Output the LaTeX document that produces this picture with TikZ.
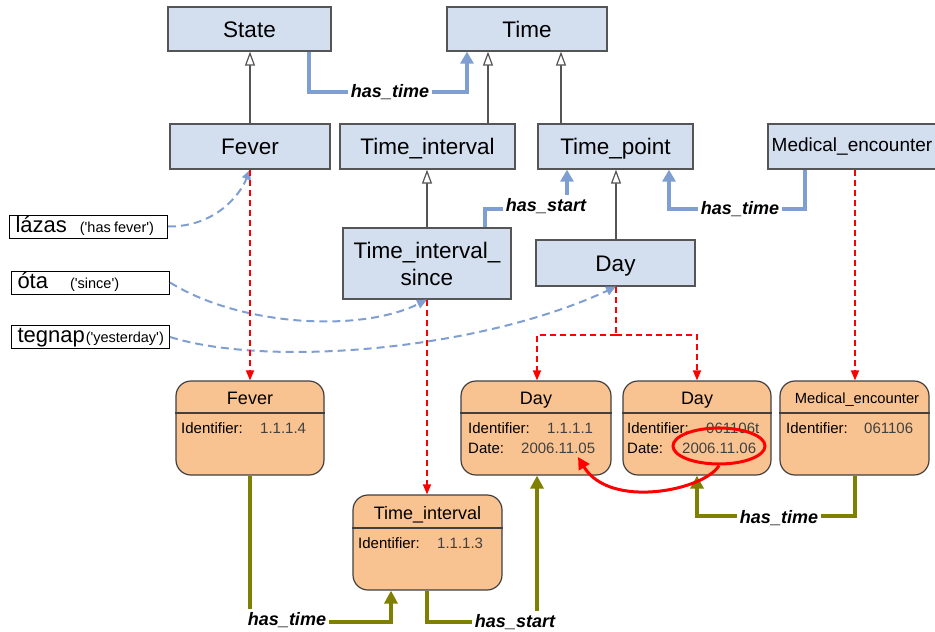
\documentclass[tikz,border=0pt]{standalone}
\usepackage{fontspec}
\setmainfont{Liberation Sans}[Ligatures=TeXOff]
\usetikzlibrary{arrows.meta,shapes.geometric}
\definecolor{boxblue}{HTML}{D3DEEE}
\definecolor{boxedge}{HTML}{555555}
\definecolor{orfill}{HTML}{F9C391}
\definecolor{oredge}{HTML}{404040}
\definecolor{linkblue}{HTML}{7F9FD3}
\definecolor{olivelink}{HTML}{808000}
\definecolor{valgrey}{HTML}{404040}
\begin{document}
\begin{tikzpicture}[x=1pt,y=-1pt,
  bluebox/.style={draw=boxedge, line width=1.3pt, fill=boxblue, inner sep=0pt,
    font=\fontsize{22.5}{27}\selectfont, text height=16pt, text depth=0pt},
  orbox/.style={draw=oredge, line width=1.2pt, fill=orfill, rounded corners=15pt, inner sep=0pt},
  otitle/.style={anchor=base, inner sep=0pt, font=\fontsize{18}{18}\selectfont},
  ofield/.style={anchor=base west, inner sep=0pt, font=\fontsize{15}{15}\selectfont},
  oval/.style={anchor=base west, inner sep=0pt, text=valgrey, font=\fontsize{15}{15}\selectfont},
  lbl/.style={draw=black, line width=1pt, fill=white, anchor=west, inner sep=0pt,
    minimum height=23pt, text width=158pt, align=left, text height=16pt, text depth=5pt},
  elabel/.style={fill=white, inner sep=3pt, font=\fontsize{18}{18}\selectfont\bfseries\itshape,
    text height=13pt, text depth=4pt},
  gen/.style={draw=boxedge, line width=1.2pt, -{Triangle[length=14pt,width=10pt,fill=white]}},
  bl/.style={draw=linkblue, line width=3.5pt, -{Triangle[length=12pt,width=13pt]}},
  rd/.style={draw=red, line width=1.6pt, dash pattern=on 6pt off 4pt, -{Triangle[length=10pt,width=8pt]}},
  rdl/.style={draw=red, line width=1.6pt, dash pattern=on 6pt off 4pt},
  ol/.style={draw=olivelink, line width=3.5pt, -{Triangle[length=13pt,width=13pt]}},
  bd/.style={draw=linkblue, line width=2pt, dash pattern=on 8pt off 5pt, -{Triangle[length=10pt,width=9pt]}}]
\useasboundingbox (0,0) rectangle (935,632);

% ontology (blue) boxes
\node[bluebox, minimum width=163pt, minimum height=44pt] (state) at (249.5,29) {State};
\node[bluebox, minimum width=160pt, minimum height=44pt] (time) at (527,29) {Time};
\node[bluebox, minimum width=160pt, minimum height=45pt] (fever1) at (250,146.5) {Fever};
\node[bluebox, minimum width=175pt, minimum height=45pt] (tint) at (427.5,146.5) {Time\_interval};
\node[bluebox, minimum width=155pt, minimum height=45pt] (tpoint) at (615.5,146.5) {Time\_point};
\node[draw=boxedge, line width=1.3pt, fill=boxblue, inner sep=0pt, minimum width=174pt, minimum height=45pt]
  (meb) at (855,146.5) {};
\node[inner sep=0pt, font=\fontsize{19}{20}\selectfont] (mebt) at (852,147) {Medical\_encounter};
\node[draw=boxedge, line width=1.3pt, fill=boxblue, inner sep=0pt, minimum width=168pt, minimum height=71pt,
  align=center, font=\fontsize{22.5}{27}\selectfont] (tis) at (427,263.5) {Time\_interval\_\\since};
\node[bluebox, minimum width=159pt, minimum height=46pt] (dayb) at (615.5,263) {Day};

% word labels
\node[lbl] (lz) at (9,226.5) {\hspace*{6pt}{\fontsize{22}{22}\selectfont lázas}\hspace{13pt}{\fontsize{14.5}{15}\selectfont('has fever')}};
\node[lbl] (ota) at (11,282.5) {\hspace*{6pt}{\fontsize{22}{22}\selectfont óta}\hspace{22pt}{\fontsize{14.5}{15}\selectfont('since')}};
\node[lbl] (teg) at (11,337) {\hspace*{6pt}{\fontsize{22}{22}\selectfont tegnap}\hspace{1pt}{\fontsize{14.5}{15}\selectfont('yesterday')}};

% instance (orange) boxes
\node[orbox, minimum width=148pt, minimum height=94pt] (ofever) at (250,428) {};
\node[orbox, minimum width=149pt, minimum height=95pt] (otint) at (427.5,542.5) {};
\node[orbox, minimum width=150pt, minimum height=94pt] (oday1) at (536,428) {};
\node[orbox, minimum width=148pt, minimum height=94pt] (oday2) at (697,428) {};
\node[orbox, minimum width=149pt, minimum height=94pt] (ome) at (854.5,428) {};
\foreach \b in {ofever,oday1,oday2,ome}
  \draw[draw=oredge, line width=1.2pt] (\b.west |- 0,413) -- (\b.east |- 0,413);
\draw[draw=oredge, line width=1.2pt] (otint.west |- 0,528) -- (otint.east |- 0,528);

\node[otitle] (tf) at (250,404) {Fever};
\node[ofield] (f1) at (181,433) {Identifier:};
\node[oval] (v1) at (260,433) {1.1.1.4};

\node[otitle] (tt) at (427.5,519) {Time\_interval};
\node[ofield] (f2) at (358,548) {Identifier:};
\node[oval] (v2) at (437,548) {1.1.1.3};

\node[otitle] (td1) at (536,404) {Day};
\node[ofield] (f3) at (468,433) {Identifier:};
\node[oval] (v3) at (547,433) {1.1.1.1};
\node[ofield] (f4) at (468,453) {Date:};
\node[oval] (v4) at (521,453) {2006.11.05};

\node[otitle] (td2) at (697,404) {Day};
\node[ofield] (f5) at (627,433) {Identifier:};
\node[oval] (v5) at (706,433) {061106t};
\node[ofield] (f6) at (627,453) {Date:};
\node[oval] (v6) at (682,453) {2006.11.06};

\node[otitle, font=\fontsize{14.7}{15}\selectfont] (tme) at (857,403) {Medical\_encounter};
\node[ofield] (f7) at (786,433) {Identifier:};
\node[oval] (v7) at (864,433) {061106};

% generalisation
\draw[gen] (250,0 |- fever1.north) -- (250,0 |- state.south);
\draw[gen] (488,0 |- tint.north) -- (488,0 |- time.south);
\draw[gen] (561,0 |- tpoint.north) -- (561,0 |- time.south);
\draw[gen] (427,0 |- tis.north) -- (427,0 |- tint.south);
\draw[gen] (616,0 |- dayb.north) -- (616,0 |- tpoint.south);

% blue relations
\draw[bl] (309,0 |- state.south) |- (390,92) -| (467,0 |- time.south);
\node[elabel] (l1) at (390,93) {has\_time};
\draw[bl] (485,0 |- tis.north) |- (546,209) -| (567,0 |- tpoint.south);
\node[elabel] (l2) at (546,206.5) {has\_start};
\draw[bl] (805,0 |- meb.south) |- (740,209) -| (669,0 |- tpoint.south);
\node[elabel] (l3) at (740,210) {has\_time};

% word links
\draw[bd] (lz.east) .. controls (215,227) and (240,195) .. (250,0 |- fever1.south);
\draw[bd] (ota.east) .. controls (240,326) and (360,333) .. (427,0 |- tis.south);
\draw[bd] (teg.east) .. controls (270,368) and (480,350) .. (616,0 |- dayb.south);

% instance-of
\draw[rd] (250,0 |- fever1.south) -- (250,0 |- ofever.north);
\draw[rd] (427,0 |- tis.south) -- (427,0 |- otint.north);
\coordinate (split) at (616,335);
\draw[rdl] (616,0 |- dayb.south) -- (split);
\draw[rd] (split) -| (537,0 |- oday1.north);
\draw[rd] (split) -| (697,0 |- oday2.north);
\draw[rd] (855,0 |- meb.south) -- (855,0 |- ome.north);

% olive relations
\draw[ol] (250,0 |- ofever.south) |- (320,622) -| (391,0 |- otint.south);
\node[elabel] (l4) at (287,620.5) {has\_time};
\draw[ol] (427,0 |- otint.south) |- (480,622) -| (537,0 |- oday1.south);
\node[elabel] (l5) at (515,622.5) {has\_start};
\draw[ol] (855,0 |- ome.south) |- (779,516) -| (697,0 |- oday2.south);
\node[elabel] (l6) at (779,518.5) {has\_time};

% red annotation
\node[draw=red, line width=3pt, ellipse, minimum width=92pt, minimum height=36pt, inner sep=0pt] (circ) at (719,446) {};
\coordinate (tip) at (578,457);
\draw[draw=red, line width=3pt, -{Triangle[length=12pt,width=12pt]}] (circ.south) .. controls (705,490) and (610,510) .. (tip);
\end{tikzpicture}
\end{document}
